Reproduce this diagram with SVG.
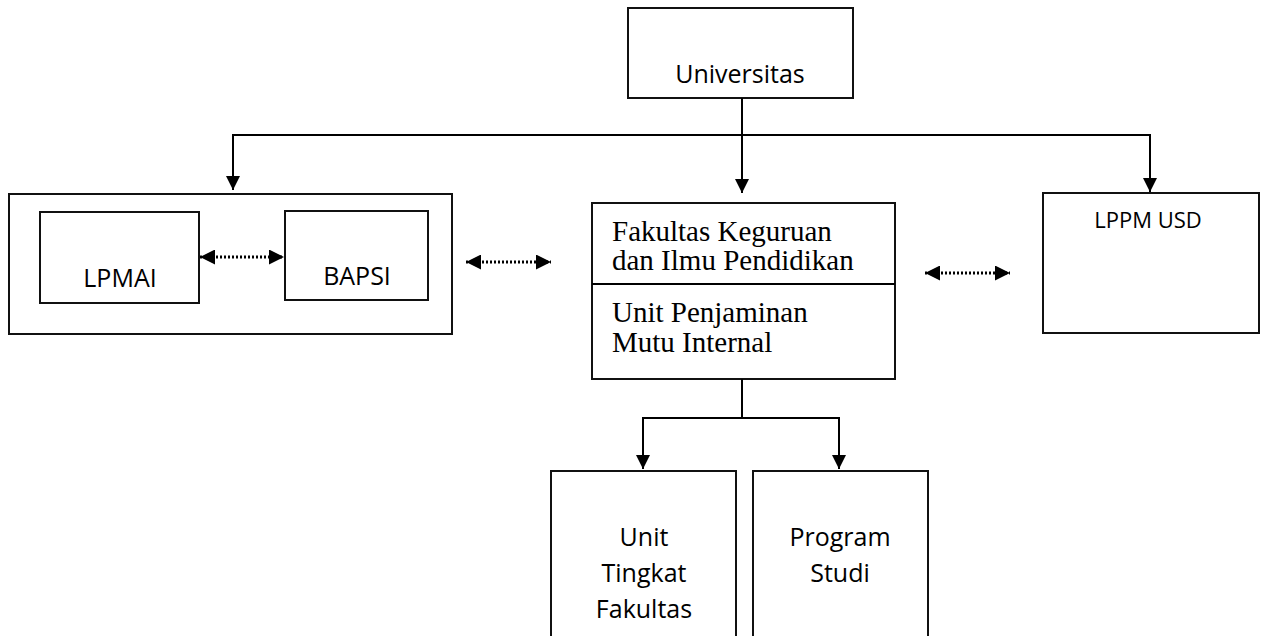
<svg xmlns="http://www.w3.org/2000/svg" width="1266" height="636" viewBox="0 0 1266 636">
<style>
.box{fill:#fff;stroke:#111;stroke-width:2}
.ln{fill:none;stroke:#000;stroke-width:2}
.dot{fill:none;stroke:#000;stroke-width:3;stroke-dasharray:2 2}
.sans{font-family:"Open Sans","Liberation Sans",sans-serif;font-size:25px;fill:#000}
.serif{font-family:"Liberation Serif","Times New Roman",serif;font-size:29px;fill:#000}
</style>
<defs>
<marker id="ah" viewBox="0 0 10 10" refX="10" refY="5" markerUnits="userSpaceOnUse" markerWidth="15" markerHeight="14" orient="auto-start-reverse">
<path d="M0,0 L10,5 L0,10 z" fill="#000"/>
</marker>
<marker id="ahd" viewBox="0 0 10 10" refX="10" refY="5" markerUnits="userSpaceOnUse" markerWidth="16" markerHeight="15" orient="auto-start-reverse">
<path d="M0,0 L10,5 L0,10 z" fill="#000"/>
</marker>
</defs>
<g id="universitas">
<rect class="box" x="628" y="8" width="225" height="90"/>
<text class="sans" x="740" y="83" text-anchor="middle">Universitas</text>
</g>
<g id="group-left">
<rect class="box" x="9" y="194" width="443" height="140"/>
</g>
<g id="lpmai">
<rect class="box" x="40" y="212" width="159" height="91"/>
<text class="sans" x="120" y="287" text-anchor="middle">LPMAI</text>
</g>
<g id="bapsi">
<rect class="box" x="285" y="211" width="143" height="89"/>
<text class="sans" x="357" y="285" text-anchor="middle">BAPSI</text>
</g>
<g id="fkip">
<rect class="box" x="592" y="203" width="303" height="176"/>
<line class="ln" x1="592" y1="284" x2="895" y2="284"/>
<text class="serif" x="612" y="241">Fakultas Keguruan</text>
<text class="serif" x="612" y="270">dan Ilmu Pendidikan</text>
<text class="serif" x="612" y="322">Unit Penjaminan</text>
<text class="serif" x="612" y="352">Mutu Internal</text>
</g>
<g id="lppm">
<rect class="box" x="1043" y="193" width="216" height="140"/>
<text class="sans" x="1148" y="228" text-anchor="middle" style="font-size:22px">LPPM USD</text>
</g>
<g id="unit-tingkat-fakultas">
<path class="box" d="M551,645 V471 H736 V645"/>
<text class="sans" x="644" y="546" text-anchor="middle">Unit</text>
<text class="sans" x="644" y="582" text-anchor="middle">Tingkat</text>
<text class="sans" x="644" y="618" text-anchor="middle">Fakultas</text>
</g>
<g id="program-studi">
<path class="box" d="M753,645 V471 H928 V645"/>
<text class="sans" x="840" y="546" text-anchor="middle">Program</text>
<text class="sans" x="840" y="582" text-anchor="middle">Studi</text>
</g>
<g id="connectors">
<line class="ln" x1="742" y1="98" x2="742" y2="193" marker-end="url(#ah)"/>
<polyline class="ln" points="233,190 233,135 1150,135 1150,192" marker-start="url(#ah)" marker-end="url(#ah)"/>
<line class="dot" x1="200" y1="257" x2="284" y2="257" marker-start="url(#ahd)" marker-end="url(#ahd)"/>
<line class="dot" x1="466" y1="262" x2="551" y2="262" marker-start="url(#ahd)" marker-end="url(#ahd)"/>
<line class="dot" x1="925" y1="273" x2="1010" y2="273" marker-start="url(#ahd)" marker-end="url(#ahd)"/>
<line class="ln" x1="742" y1="379" x2="742" y2="418"/>
<polyline class="ln" points="643,469 643,418 839,418 839,469" marker-start="url(#ah)" marker-end="url(#ah)"/>
</g>
</svg>
